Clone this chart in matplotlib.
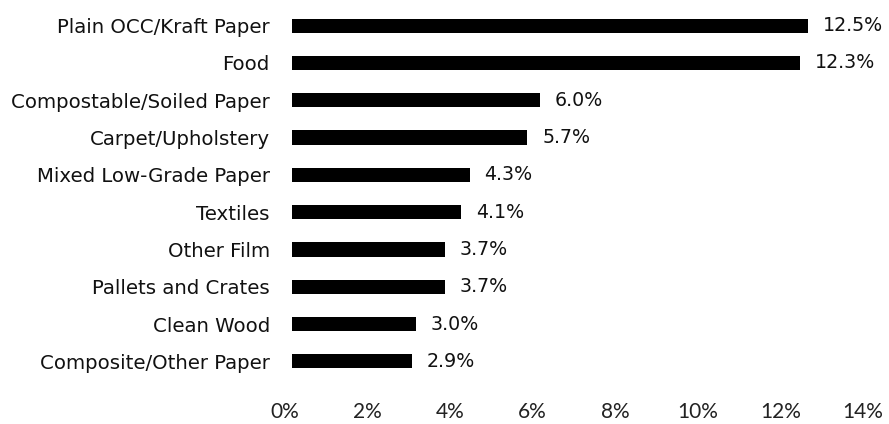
import matplotlib
matplotlib.use("Agg")
import matplotlib.pyplot as plt
import matplotlib.transforms as mtransforms
from matplotlib.ticker import FuncFormatter

categories = [
    "Plain OCC/Kraft Paper",
    "Food",
    "Compostable/Soiled Paper",
    "Carpet/Upholstery",
    "Mixed Low-Grade Paper",
    "Textiles",
    "Other Film",
    "Pallets and Crates",
    "Clean Wood",
    "Composite/Other Paper",
]
shares = [12.5, 12.3, 6.0, 5.7, 4.3, 4.1, 3.7, 3.7, 3.0, 2.9]
x_ticks = [0, 2, 4, 6, 8, 10, 12, 14]

fig = plt.figure(figsize=(8.89, 4.24), dpi=100)
ax = fig.add_axes([292 / 889, 44 / 424, 578 / 889, 373 / 424])

pos = list(range(len(categories)))
ax.barh(pos, shares, height=0.38, color="black")
for y, v in zip(pos, shares):
    ax.text(v + 0.36, y, f"{v:.1f}%", va="center", ha="left",
            fontsize=13.7, family="DejaVu Sans", color="#111111")

ax.set_yticks(pos)
ax.set_yticklabels(categories, fontsize=14.2, family="DejaVu Sans", color="#111111")
ax.set_ylim(len(categories) - 0.5, -0.5)
ax.set_xlim(0, 14)
ax.set_xticks(x_ticks)
ax.xaxis.set_major_formatter(FuncFormatter(lambda v, p: f"{v:.0f}%"))
ax.tick_params(axis="both", length=0)
ax.tick_params(axis="x", pad=16)
ax.tick_params(axis="y", pad=16)
for s in ax.spines.values():
    s.set_visible(False)

# nudge the percentage tick labels slightly left of their tick positions
shift = mtransforms.ScaledTranslation(-7 / 100, 0, fig.dpi_scale_trans)
for tick in ax.xaxis.get_major_ticks():
    lbl = tick.label1
    lbl.set_fontsize(15)
    lbl.set_family("Lato")
    lbl.set_color("#222222")
    lbl.set_transform(lbl.get_transform() + shift)

fig.savefig("out.png", dpi=100, facecolor="white")
